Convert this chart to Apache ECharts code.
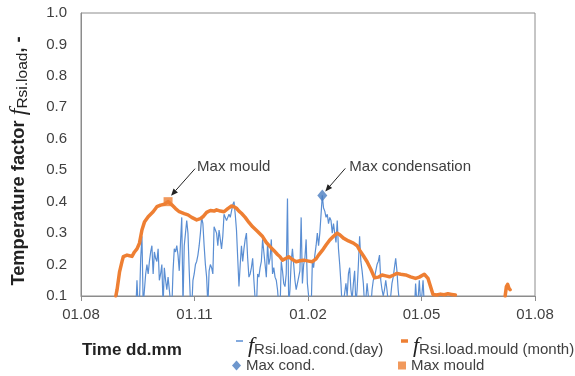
<!DOCTYPE html>
<html>
<head>
<meta charset="utf-8">
<script src="https://cdn.jsdelivr.net/npm/echarts@6/dist/echarts.min.js"></script>
<style>
  html, body { margin: 0; padding: 0; background: #fff; }
  #c { width: 575px; height: 376px; }
</style>
</head>
<body>
<div id="c"></div>
<script>
// Tick labels for the time axis (one year, quarterly ticks)
const tickLabels = ['01.08', '01.11', '01.02', '01.05', '01.08'];

// Daily condensation temperature factor, starting at day 28 after 01.08
const condStart = 28;
const condDaily = [
  0.05, 0.11, 0.05, 0.05, 0.04, 0.05, 0.06, 0.05, 0.04, 0.05, 0.06, 0.05, 0.05, 0.04, 0.05, 0.06, 0.05,
  0.15, 0.06, 0.08, 0.22, 0.29, 0.07, 0.12, 0.17, 0.20, 0.17, 0.21, 0.24, 0.26, 0.17, 0.24, 0.22,
  0.21, 0.25, 0.15, 0.17, 0.20, 0.07, 0.19, 0.15, 0.12, 0.16, 0.12, 0.08, 0.06, 0.18, 0.25, 0.24,
  0.26, 0.23, 0.18, 0.27, 0.35, 0.07, 0.26, 0.30, 0.34, 0.30, 0.18, 0.08, 0.06, 0.15, 0.17, 0.20,
  0.21, 0.23, 0.26, 0.30, 0.35, 0.33, 0.26, 0.20, 0.16, 0.07, 0.18, 0.20, 0.19, 0.17, 0.32, 0.31,
  0.30, 0.26, 0.31, 0.28, 0.25, 0.29, 0.36, 0.35, 0.34, 0.35, 0.36, 0.35, 0.37, 0.39, 0.40, 0.36,
  0.31, 0.22, 0.13, 0.20, 0.26, 0.21, 0.25, 0.28, 0.30, 0.22, 0.16, 0.17, 0.19, 0.22, 0.15, 0.09,
  0.06, 0.17, 0.16, 0.19, 0.21, 0.28, 0.24, 0.20, 0.16, 0.27, 0.20, 0.22, 0.28, 0.17, 0.19, 0.16,
  0.15, 0.12, 0.07, 0.05, 0.21, 0.18, 0.14, 0.13, 0.17, 0.41, 0.07, 0.12, 0.21, 0.25, 0.20, 0.15,
  0.12, 0.14, 0.16, 0.18, 0.35, 0.14, 0.20, 0.22, 0.28, 0.14, 0.10, 0.06, 0.05, 0.21, 0.19, 0.23,
  0.26, 0.30, 0.26, 0.30, 0.36, 0.42, 0.38, 0.37, 0.35, 0.36, 0.33, 0.35, 0.34, 0.30, 0.33, 0.30,
  0.27, 0.34, 0.25, 0.20, 0.14, 0.06, 0.08, 0.11, 0.14, 0.10, 0.17, 0.19, 0.12, 0.09, 0.14, 0.18,
  0.07, 0.12, 0.20, 0.29, 0.21, 0.18, 0.14, 0.07, 0.09, 0.14, 0.10, 0.07, 0.06, 0.12, 0.15, 0.16,
  0.18, 0.20, 0.21, 0.23, 0.15, 0.12, 0.10, 0.12, 0.15, 0.12, 0.08, 0.06, 0.10, 0.14, 0.16, 0.19,
  0.22, 0.18, 0.12, 0.08, 0.06, 0.05, 0.05, 0.04, 0.05, 0.06, 0.05, 0.04, 0.05, 0.05, 0.06, 0.05,
  0.14, 0.08, 0.09, 0.15, 0.08, 0.10, 0.15, 0.07, 0.05
];

// Monthly (running) mould temperature factor: day after 01.08 and value
const mouldDays = [
  28, 29, 31, 33, 34, 37, 39, 41, 43, 45, 47, 49, 51, 54, 56, 58, 61, 64, 67, 70,
  73, 76, 79, 83, 86, 89, 93, 96, 98, 101, 104, 107, 109, 112, 115, 118, 121, 123, 125, 127,
  129, 132, 135, 138, 142, 146, 149, 152, 155, 158, 160, 162, 165, 167, 170, 173, 176, 179, 183, 186,
  189, 191, 194, 197, 200, 203, 206, 208, 211, 215, 219, 222, 224, 227, 230, 233, 236, 239, 242, 245,
  248, 251, 254, 257, 261, 265, 269, 272, 276, 279, 281, 283, 286, 289, 292, 295, 298, 301,
  320,
  341, 342, 343, 344, 345
];
const mouldValues = [
  0.10, 0.12, 0.177, 0.21, 0.225, 0.23, 0.228, 0.226, 0.24, 0.25, 0.268, 0.31, 0.335, 0.352, 0.36, 0.368, 0.384, 0.389, 0.392, 0.40,
  0.39, 0.378, 0.368, 0.362, 0.358, 0.35, 0.342, 0.346, 0.352, 0.366, 0.372, 0.37, 0.374, 0.37, 0.368, 0.378, 0.386, 0.384, 0.379, 0.37,
  0.363, 0.35, 0.334, 0.32, 0.305, 0.289, 0.27, 0.257, 0.245, 0.232, 0.225, 0.214, 0.22, 0.225, 0.216, 0.209, 0.212, 0.214, 0.211, 0.209,
  0.218, 0.23, 0.245, 0.262, 0.278, 0.29, 0.30, 0.295, 0.284, 0.275, 0.268, 0.26, 0.246, 0.228, 0.209, 0.185, 0.158, 0.16, 0.167, 0.164,
  0.161, 0.166, 0.172, 0.169, 0.167, 0.161, 0.156, 0.16, 0.169, 0.156, 0.13, 0.105, 0.103, 0.106, 0.104, 0.107, 0.105, 0.103,
  null,
  0.10, 0.13, 0.137, 0.125, 0.12
];

// Maxima: [day, value]
const maxCond = [194, 0.42];
const maxMould = [70, 0.40];

const FONT = "'Liberation Sans', Arial, sans-serif";
const TXT = '#404040';

const chart = echarts.init(document.getElementById('c'), null, { renderer: 'canvas' });

const condData = condDaily.map((v, i) => [condStart + i, v]);
const mouldData = mouldDays.map((d, i) => [d, mouldValues[i]]);

const fRich = {
  f: { fontFamily: "'Liberation Serif', 'DejaVu Serif', serif", fontStyle: 'italic', fontSize: 22, color: '#222' },
  s: { fontFamily: FONT, fontSize: 15, color: TXT, padding: [7, 0, 0, 0] }
};

chart.setOption({
  animation: false,
  grid: {
    left: 81, right: 40, top: 13, bottom: 80,
    show: true, borderColor: '#8c8c8c', borderWidth: 1,
    outerBoundsMode: 'none'
  },
  xAxis: {
    type: 'value', min: 0, max: 365, interval: 91.25,
    axisLine: { show: true, lineStyle: { color: '#8c8c8c', width: 1 } },
    axisTick: { show: true, inside: false, length: 5, lineStyle: { color: '#8c8c8c' } },
    splitLine: { show: false },
    axisLabel: {
      margin: 11, fontSize: 15, color: TXT, fontFamily: FONT,
      formatter: v => tickLabels[Math.round(v / 91.25)]
    }
  },
  yAxis: {
    type: 'value', min: 0.1, max: 1.0, interval: 0.1,
    axisLine: { show: true, lineStyle: { color: '#8c8c8c', width: 1 } },
    axisTick: { show: false },
    splitLine: { show: false },
    axisLabel: {
      margin: 14, fontSize: 15, color: TXT, fontFamily: FONT,
      formatter: v => v.toFixed(1)
    }
  },
  legend: [
    {
      data: [{ name: 'cond', icon: 'rect' }], left: 236, top: 335, padding: 0,
      itemWidth: 7, itemHeight: 1.5, selectedMode: false,
      formatter: () => '{f|f}{s|Rsi.load.cond.(day)}',
      textStyle: { rich: fRich, padding: [10, 0, 0, 0] }
    },
    {
      data: [{ name: 'mould', icon: 'rect' }], left: 401, top: 335, padding: 0,
      itemWidth: 7, itemHeight: 3.5, selectedMode: false,
      formatter: () => '{f|f}{s|Rsi.load.mould (month)}',
      textStyle: { rich: fRich, padding: [10, 0, 0, 0] }
    },
    {
      data: [{ name: 'Max cond.', icon: 'diamond' }], left: 232, top: 358, padding: 0,
      itemWidth: 9, itemHeight: 10, selectedMode: false,
      textStyle: { fontSize: 15, color: TXT, fontFamily: FONT }
    },
    {
      data: [{ name: 'Max mould', icon: 'rect' }], left: 398, top: 358, padding: 0,
      itemWidth: 8, itemHeight: 8, selectedMode: false,
      textStyle: { fontSize: 15, color: TXT, fontFamily: FONT }
    }
  ],
  series: [
    {
      name: 'cond', type: 'line', data: condData, showSymbol: false, symbol: 'none',
      clip: true, z: 2,
      itemStyle: { color: '#5A8ED3' },
      lineStyle: { color: '#5A8ED3', width: 1.2 }
    },
    {
      name: 'mould', type: 'line', data: mouldData, showSymbol: false, symbol: 'none',
      clip: true, connectNulls: false, z: 3,
      itemStyle: { color: '#EE7F33' },
      lineStyle: { color: '#EE7F33', width: 3.5, join: 'round', cap: 'round' }
    },
    {
      name: 'Max cond.', type: 'scatter', data: [maxCond], symbol: 'diamond',
      symbolSize: [10, 12], z: 5, itemStyle: { color: '#4A7DC0' }
    },
    {
      name: 'Max mould', type: 'scatter', data: [maxMould], symbol: 'rect',
      symbolSize: 9, z: 5, itemStyle: { color: '#EE7F33' }
    }
  ]
});

// Annotation arrows and labels placed relative to the maxima
function arrow(x1, y1, x2, y2) {
  const a = Math.atan2(y2 - y1, x2 - x1);
  const L = 7, W = 3;
  const bx = x2 - L * Math.cos(a), by = y2 - L * Math.sin(a);
  const px = -Math.sin(a) * W, py = Math.cos(a) * W;
  return [
    { type: 'line', shape: { x1: x1, y1: y1, x2: bx, y2: by }, style: { stroke: '#222', lineWidth: 1 }, z: 10 },
    { type: 'polygon', shape: { points: [[x2, y2], [bx + px, by + py], [bx - px, by - py]] }, style: { fill: '#222' }, z: 10 }
  ];
}

const pm = chart.convertToPixel({ gridIndex: 0 }, maxMould);
const pc = chart.convertToPixel({ gridIndex: 0 }, maxCond);

const graphics = [].concat(
  arrow(pm[0] + 27, pm[1] - 33, pm[0] + 3, pm[1] - 6),
  arrow(pc[0] + 23, pc[1] - 27, pc[0] + 3, pc[1] - 4),
  [
    { type: 'text', x: pm[0] + 29, y: pm[1] - 35, z: 10,
      style: { text: 'Max mould', font: "15px 'Liberation Sans', Arial", fill: TXT, textVerticalAlign: 'middle' } },
    { type: 'text', x: pc[0] + 27, y: pc[1] - 29, z: 10,
      style: { text: 'Max condensation', font: "15px 'Liberation Sans', Arial", fill: TXT, textVerticalAlign: 'middle' } },
    { type: 'text', x: 82, y: 350, z: 10,
      style: { text: 'Time dd.mm', font: "bold 17px 'Liberation Sans', Arial", fill: '#222', textVerticalAlign: 'middle' } },
    { type: 'text', x: 19, y: 161, rotation: Math.PI / 2, z: 10,
      style: {
        text: '{b|Temperature factor }{f|f}{s|Rsi.load}{b|, -}',
        textAlign: 'center', textVerticalAlign: 'middle',
        rich: {
          b: { fontFamily: FONT, fontWeight: 'bold', fontSize: 18.3, fill: '#222' },
          f: { fontFamily: "'Liberation Serif', serif", fontStyle: 'italic', fontSize: 24, fill: '#222' },
          s: { fontFamily: FONT, fontSize: 15.5, fill: '#222', padding: [8, 0, 0, 0] }
        }
      } }
  ]
);

chart.setOption({ graphic: graphics });
</script>
</body>
</html>
